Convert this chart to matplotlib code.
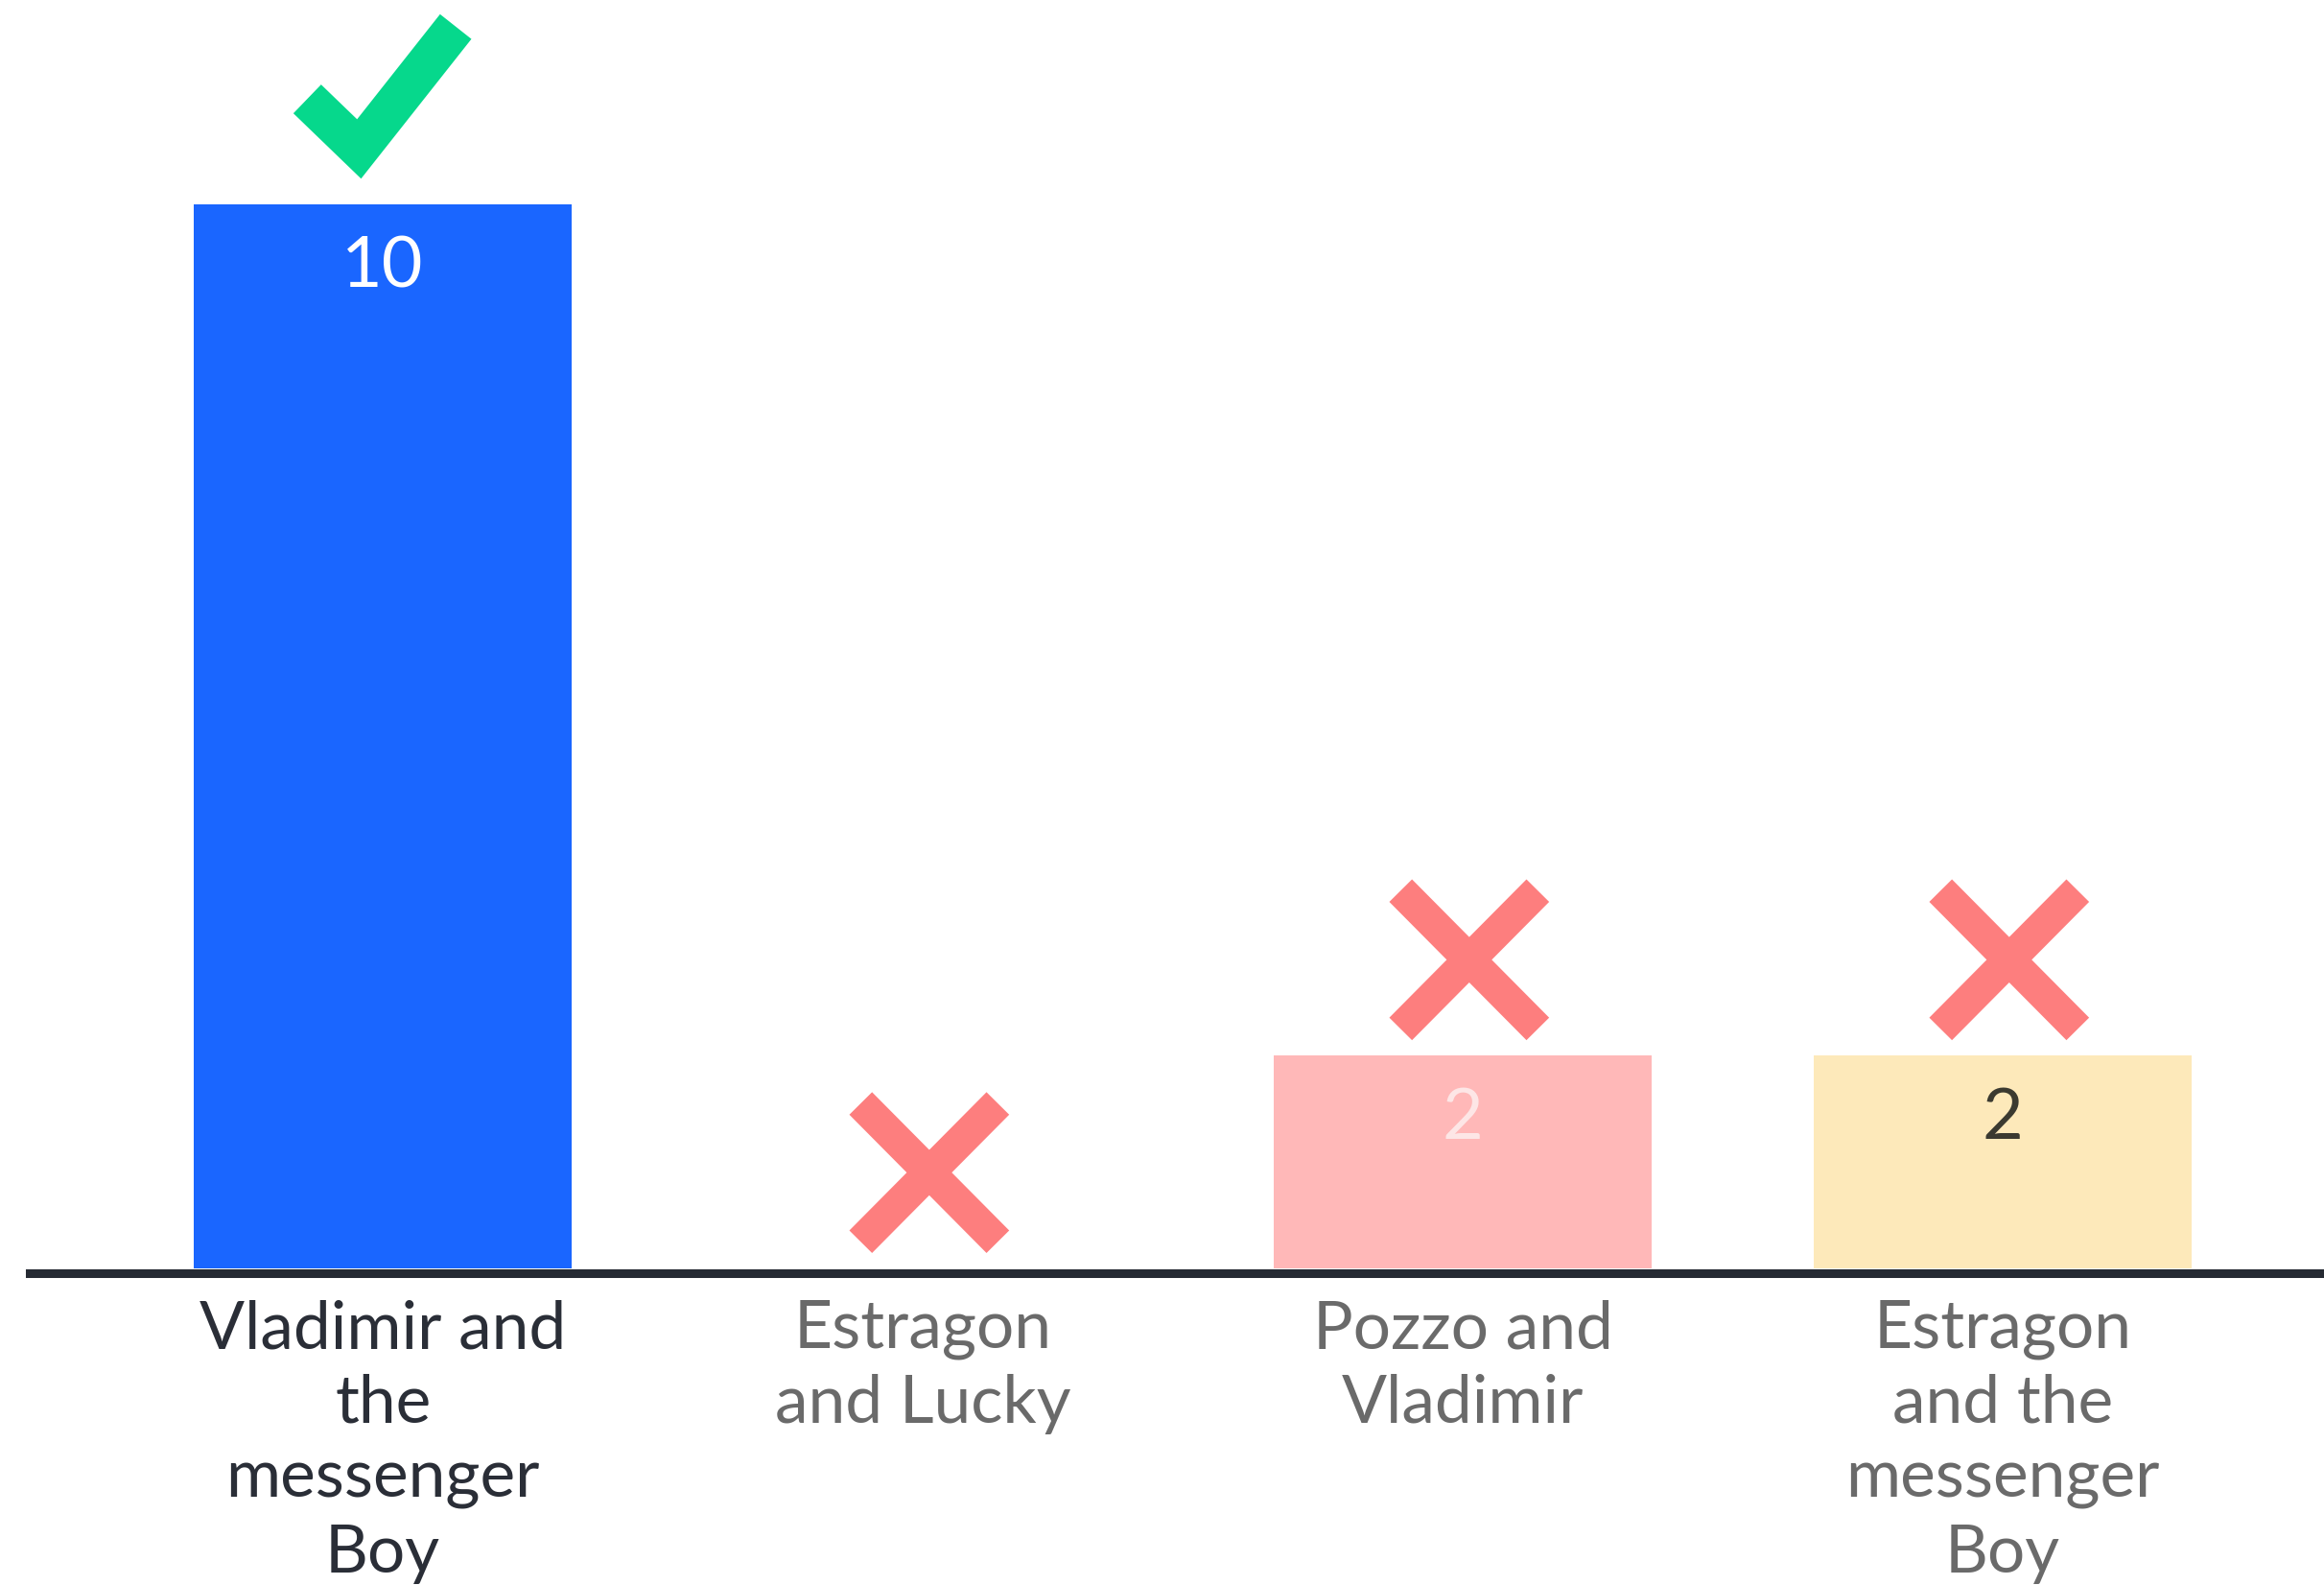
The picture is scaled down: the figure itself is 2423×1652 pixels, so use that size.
# -*- coding: utf-8 -*-

import matplotlib.pyplot as plt

#-------------------------------------------------------
# dados
categorias = ['Vladimir and\nthe\nmessenger\nBoy',
              'Estragon\nand Lucky',
              'Pozzo and\nVladimir',
              'Estragon\nand the\nmessenger\nBoy']
valores = [10, 0, 2, 2]
correto = [True, False, False, False]

cores_barras = ['#1a66ff', '#ffffff', '#ffb8b8', '#fde9ba']
cores_valores = ['#ffffff', '#ffffff', '#fde6e6', '#3b3a30']
cores_rotulos = ['#2a2e37', '#6a6a6a', '#6a6a6a', '#6a6a6a']

verde = '#06d88c'
vermelho = '#fd7e7e'
linha = '#252a33'

plt.rcParams['font.family'] = ['Lato', 'DejaVu Sans']

#-------------------------------------------------------
fig = plt.figure(figsize=(24.23, 16.52), dpi=100)
ax = fig.add_axes([0, 0, 1, 1])
ax.set_xlim(-0.709, 3.595)
ax.set_ylim(-2.976, 11.92)
ax.axis('off')

x = list(range(len(categorias)))
ax.bar(x, valores, width=0.70, color=cores_barras, zorder=1)
ax.axhline(-0.045, xmin=31/2423, color=linha, lw=6.5, zorder=3)

for i, v in enumerate(valores):
    if v > 0:
        ax.text(i, v - 0.60, str(v), ha='center', va='center',
                fontsize=53, color=cores_valores[i], zorder=4)
    ax.text(i, -0.29, categorias[i], ha='center', va='top',
            fontsize=50, color=cores_rotulos[i], linespacing=1.29)

    if correto[i]:
        ax.plot([i - 0.140, i - 0.044, i + 0.135],
                [v + 0.99, v + 0.52, v + 1.67],
                color=verde, lw=30, solid_capstyle='butt',
                solid_joinstyle='miter', zorder=5)
    else:
        cx, cy = i + 0.012, v + 0.90
        ax.plot([cx - 0.127, cx + 0.127], [cy + 0.65, cy - 0.65],
                color=vermelho, lw=24, solid_capstyle='butt', zorder=5)
        ax.plot([cx - 0.127, cx + 0.127], [cy - 0.65, cy + 0.65],
                color=vermelho, lw=24, solid_capstyle='butt', zorder=5)

plt.savefig('out.png', dpi=100)
